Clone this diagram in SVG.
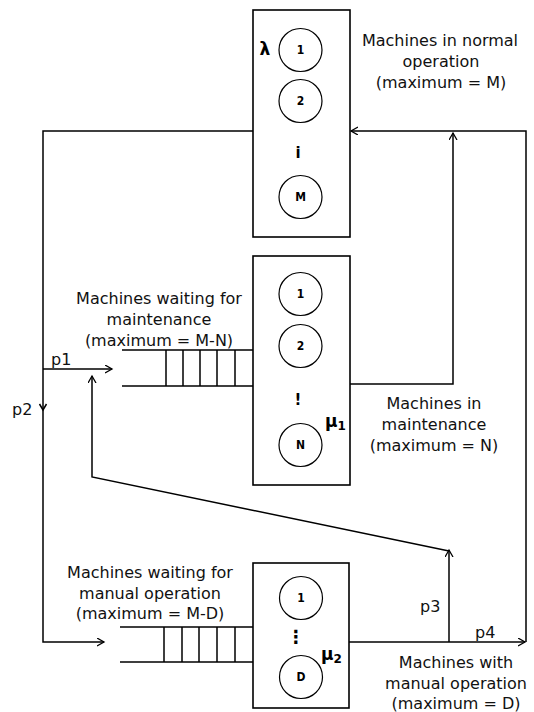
<svg xmlns="http://www.w3.org/2000/svg" width="534" height="712" viewBox="0 0 534 712">
<style>
.ln{fill:none;stroke:#000;stroke-width:1.5}
.box{fill:#fff;stroke:#000;stroke-width:1.6}
.srv{fill:#fff;stroke:#000;stroke-width:1.2}
.q{fill:none;stroke:#000;stroke-width:1.5}
.t{font-family:"DejaVu Sans","Verdana",sans-serif;font-size:16px;fill:#111;text-anchor:middle}
.lb{font-family:"DejaVu Sans","Verdana",sans-serif;font-size:16px;fill:#111}
.num{font-family:"DejaVu Sans Condensed","DejaVu Sans",sans-serif;font-size:12px;font-weight:bold;fill:#000;text-anchor:middle}
.sym{font-family:"DejaVu Sans",sans-serif;font-weight:bold;fill:#000}
</style>
<defs>
<marker id="ah" markerUnits="userSpaceOnUse" markerWidth="10" markerHeight="10" refX="7" refY="4" orient="auto">
<path d="M0,0 L7,4 L0,8" fill="none" stroke="#000" stroke-width="1.3"/>
</marker>
</defs>
<rect width="534" height="712" fill="#fff"/>

<g id="connectors">
<path class="ln" d="M253,131 H43 V642 H104" marker-end="url(#ah)"/>
<path class="ln" d="M39.5,404 L43,410 L46.5,404"/>
<path class="ln" d="M43,369 H112" marker-end="url(#ah)"/>
<path class="ln" d="M349,384 H453 V133" marker-end="url(#ah)"/>
<path class="ln" d="M526,642 V131 H351" marker-end="url(#ah)"/>
<path class="ln" d="M349,642 H525" marker-end="url(#ah)"/>
<path class="ln" d="M449,642 V550" marker-end="url(#ah)"/>
<path class="ln" d="M449,551 L92,477 V376" marker-end="url(#ah)"/>
</g>

<g id="normal-operation">
<rect class="box" x="253" y="10" width="97" height="227"/>
<text class="sym" x="265" y="55" font-size="17" text-anchor="middle">λ</text>
<circle class="srv" cx="300.5" cy="50" r="21.5"/>
<text class="num" x="300.5" y="54">1</text>
<circle class="srv" cx="300.5" cy="101" r="21.5"/>
<text class="num" x="300.5" y="105">2</text>
<text class="sym" x="298" y="158" font-size="15" text-anchor="middle">i</text>
<circle class="srv" cx="300.5" cy="197" r="21.5"/>
<text class="num" x="300.5" y="201">M</text>
<text class="t" x="440" y="46">Machines in normal</text>
<text class="t" x="441" y="67">operation</text>
<text class="t" x="441" y="88">(maximum = M)</text>
</g>

<g id="maintenance-queue">
<path class="q" d="M122,350 H253 M122,386 H253 M166,350 V386 M183,350 V386 M200,350 V386 M217,350 V386 M235,350 V386"/>
<text class="t" x="159" y="304">Machines waiting for</text>
<text class="t" x="159" y="325">maintenance</text>
<text class="t" x="159" y="346">(maximum = M-N)</text>
</g>

<g id="maintenance">
<rect class="box" x="253" y="256" width="97" height="229"/>
<circle class="srv" cx="300.5" cy="294" r="21.5"/>
<text class="num" x="300.5" y="298">1</text>
<circle class="srv" cx="300.5" cy="346" r="21.5"/>
<text class="num" x="300.5" y="350">2</text>
<text class="sym" x="298" y="405" font-size="15" text-anchor="middle">!</text>
<circle class="srv" cx="300.5" cy="445" r="21.5"/>
<text class="num" x="300.5" y="449">N</text>
<text class="sym" x="325" y="427" font-size="17">μ<tspan font-size="12" dy="3">1</tspan></text>
<text class="t" x="434" y="409">Machines in</text>
<text class="t" x="434" y="430">maintenance</text>
<text class="t" x="434" y="451">(maximum = N)</text>
</g>

<g id="manual-queue">
<path class="q" d="M120,627 H253 M120,662 H253 M164,627 V662 M182,627 V662 M199,627 V662 M217,627 V662 M235,627 V662"/>
<text class="t" x="150" y="578">Machines waiting for</text>
<text class="t" x="150" y="599">manual operation</text>
<text class="t" x="150" y="619">(maximum = M-D)</text>
</g>

<g id="manual-operation">
<rect class="box" x="253" y="563" width="96" height="145"/>
<circle class="srv" cx="301" cy="598" r="21.5"/>
<text class="num" x="301" y="602">1</text>
<text class="sym" x="296" y="643" font-size="18" text-anchor="middle">⋮</text>
<circle class="srv" cx="301" cy="677" r="21.5"/>
<text class="num" x="301" y="681">D</text>
<text class="sym" x="321" y="660" font-size="17">μ<tspan font-size="12" dy="3">2</tspan></text>
<text class="t" x="456" y="668">Machines with</text>
<text class="t" x="456" y="689">manual operation</text>
<text class="t" x="456" y="709">(maximum = D)</text>
</g>

<g id="labels">
<text class="lb" x="51" y="365">p1</text>
<text class="lb" x="12" y="415">p2</text>
<text class="lb" x="420" y="612">p3</text>
<text class="lb" x="475" y="638">p4</text>
</g>
</svg>
